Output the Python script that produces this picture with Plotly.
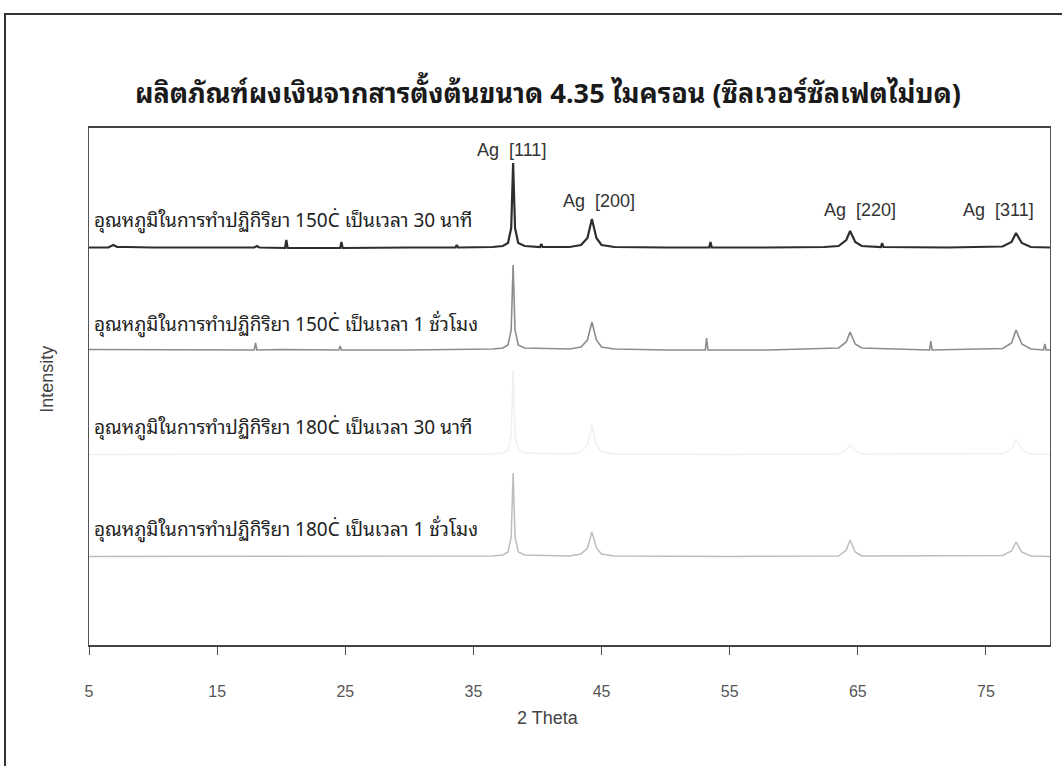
import plotly.graph_objects as go

# ---- data (2θ, relative intensity above each baseline) ----
x_150_30 = [5.0, 6.5, 6.9, 7.2, 8.0, 10.0, 14.0, 17.9, 18.1, 18.3, 20.3, 20.4, 20.5, 24.6, 24.7, 24.8,
            30.0, 33.6, 33.7, 33.8, 36.5, 37.3, 37.7, 37.95, 38.1, 38.25, 38.5, 39.0, 40.2, 40.3, 40.4,
            42.5, 43.4, 43.9, 44.25, 44.6, 45.0, 46.0, 50.0, 53.4, 53.5, 53.6, 58.0, 62.4, 63.5, 64.1,
            64.4, 64.8, 65.3, 66.8, 66.9, 67.0, 72.0, 76.3, 77.0, 77.35, 77.8, 78.5, 80.0]
y_150_30 = [0.5, 0.5, 3, 1, 1, 0.5, 0.5, 0.5, 2, 0.5, 0, 8, 0, 0, 6, 0,
            0.5, 0.5, 3, 0.5, 1, 2, 5, 20, 85, 20, 5, 2, 1, 4, 1,
            1, 3, 10, 29, 10, 3, 1, 0.5, 0.5, 6, 0.5, 0.5, 1, 2, 8,
            17, 6, 2, 1, 5, 1, 0.5, 1.5, 6, 15, 5, 1, 0.5]

x_150_60 = [5.0, 10.0, 17.9, 18.0, 18.1, 20.0, 24.5, 24.6, 24.7, 30.0, 36.5, 37.3, 37.7, 37.95, 38.1,
            38.25, 38.5, 39.0, 42.5, 43.4, 43.9, 44.25, 44.6, 45.0, 46.0, 50.0, 53.1, 53.2, 53.3, 58.0,
            63.5, 64.1, 64.4, 64.8, 65.3, 70.6, 70.7, 70.8, 76.3, 77.0, 77.35, 77.8, 78.5, 79.5, 79.6,
            79.7, 80.0]
y_150_60 = [0.5, 0.5, 0, 7, 0, 0.5, 0, 4, 0, 0, 1, 2, 5, 20, 85,
            20, 5, 2, 1, 3, 10, 28, 10, 3, 1, 0, 0, 12, 0, 0,
            2, 8, 18, 6, 2, 0, 9, 0, 1.5, 7, 20, 6, 1, 0, 6,
            0, 0]

x_180_30 = [5.0, 20.0, 36.5, 37.3, 37.7, 37.95, 38.1, 38.25, 38.5, 39.0, 42.5, 43.4, 43.9, 44.25, 44.6,
            45.0, 46.0, 55.0, 63.5, 64.1, 64.4, 64.8, 65.3, 76.3, 77.0, 77.35, 77.8, 78.5, 80.0]
y_180_30 = [0.5, 0.5, 1, 2, 5, 20, 85, 20, 5, 2, 1, 3, 10, 30, 10,
            3, 1, 0.5, 1, 5, 10, 4, 1, 1.5, 6, 16, 5, 1, 0.5]

x_180_60 = [5.0, 20.0, 36.5, 37.3, 37.7, 37.95, 38.1, 38.25, 38.5, 39.0, 42.5, 43.4, 43.9, 44.25, 44.6,
            45.0, 46.0, 55.0, 63.5, 64.1, 64.4, 64.8, 65.3, 76.3, 77.0, 77.35, 77.8, 78.5, 80.0]
y_180_60 = [0.5, 0.5, 1, 2, 5, 20, 84, 20, 5, 2, 1, 3, 9, 25, 9,
            3, 1, 0.5, 1, 7, 17, 5, 1, 1.5, 6, 15, 5, 1, 0.5]

series_names = ["อุณหภูมิในการทำปฏิกิริยา 150Ċ เป็นเวลา 30 นาที",
                "อุณหภูมิในการทำปฏิกิริยา 150Ċ เป็นเวลา 1 ชั่วโมง",
                "อุณหภูมิในการทำปฏิกิริยา 180Ċ เป็นเวลา 30 นาที",
                "อุณหภูมิในการทำปฏิกิริยา 180Ċ เป็นเวลา 1 ชั่วโมง"]
series_x = [x_150_30, x_150_60, x_180_30, x_180_60]
series_y = [y_150_30, y_150_60, y_180_30, y_180_60]
offsets = [397, 295, 190, 88]
label_y = [427, 323, 220, 118]

peak_labels = ["Ag  [111]", "Ag  [200]", "Ag  [220]", "Ag  [311]"]
peak_label_x = [38.0, 44.8, 65.2, 76.0]
peak_label_y = [495, 444, 435, 435]

tick_vals = [5, 15, 25, 35, 45, 55, 65, 75]

title_text = "ผลิตภัณฑ์ผงเงินจากสารตั้งต้นขนาด 4.35 ไมครอน (ซิลเวอร์ซัลเฟตไม่บด)"

colors = ["#2e2e2e", "#8c8c8c", "#f0f0f0", "#bdbdbd"]
widths = [2.2, 1.6, 1.5, 1.5]

THAI = ("Noto Sans Thai Looped, Loma, Garuda, Norasi, Kinnari, Tlwg Typo, "
        "Noto Serif Thai, Noto Sans Thai, Tahoma, sans-serif")
SANS = "Liberation Sans, Arial, sans-serif"

fig = go.Figure()
for xs, ys, off, c, w, name in zip(series_x, series_y, offsets, colors, widths, series_names):
    fig.add_trace(go.Scatter(x=xs, y=[v + off for v in ys], mode="lines",
                             line=dict(color=c, width=w), name=name, showlegend=False,
                             hoverinfo="skip"))

annotations = []
for name, ly in zip(series_names, label_y):
    annotations.append(dict(x=5.2, y=ly, xref="x", yref="y", text=name, showarrow=False,
                            xanchor="left", yanchor="middle",
                            font=dict(family=THAI, size=19, color="#222")))
for t, px, py in zip(peak_labels, peak_label_x, peak_label_y):
    annotations.append(dict(x=px, y=py, xref="x", yref="y", text=t, showarrow=False,
                            xanchor="center", yanchor="middle",
                            font=dict(family=SANS, size=18, color="#333")))
annotations.append(dict(x=0.478, y=1.072, xref="paper", yref="paper", text="<b>" + title_text + "</b>",
                        showarrow=False, xanchor="center", yanchor="middle",
                        font=dict(family=THAI, size=27, color="#1a1a1a")))
annotations.append(dict(x=-0.0437, y=0.513, xref="paper", yref="paper", text="Intensity",
                        showarrow=False, textangle=-90, xanchor="center", yanchor="middle",
                        font=dict(family=SANS, size=18, color="#444")))
annotations.append(dict(x=0.478, y=-0.141, xref="paper", yref="paper", text="2 Theta",
                        showarrow=False, xanchor="center", yanchor="middle",
                        font=dict(family=SANS, size=18, color="#444")))

fig.update_layout(
    width=1062, height=766,
    margin=dict(l=89, r=12, t=128, b=121),
    paper_bgcolor="white", plot_bgcolor="white",
    annotations=annotations,
    shapes=[dict(type="rect", xref="paper", yref="paper", x0=-0.0874, x1=1.03, y0=-0.27, y1=1.2205,
                 line=dict(color="#333", width=2), layer="below")],
)
fig.update_xaxes(range=[5, 80], tickvals=tick_vals, ticks="outside", ticklen=8, tickcolor="#555",
                 showline=True, linecolor="#444", linewidth=1.5, mirror=True, showgrid=False,
                 zeroline=False, ticklabelstandoff=23,
                 tickfont=dict(family=SANS, size=16, color="#555"))
fig.update_yaxes(range=[0, 517], showticklabels=False, ticks="", showline=True, linecolor="#555",
                 linewidth=1, mirror=True, showgrid=False, zeroline=False)

fig.write_html("out.html", config={"displayModeBar": False},
               post_script="document.body.style.margin='0';")
